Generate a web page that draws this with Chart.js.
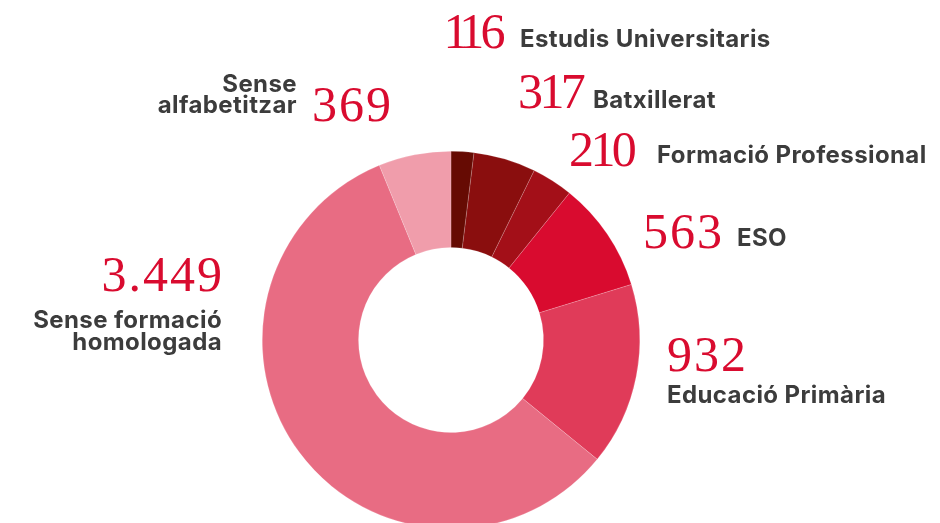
<!DOCTYPE html>
<html>
<head>
<meta charset="utf-8">
<script src="https://cdn.jsdelivr.net/npm/chart.js@4.4.1/dist/chart.umd.min.js"></script>
<style>
  html, body { margin: 0; padding: 0; background: #fff; overflow: hidden; }
  #wrap { width: 940px; height: 560px; }
</style>
</head>
<body>
<div id="wrap"><canvas id="grafica"></canvas></div>
<script>
// Dades
const categories = [
    ['Estudis Universitaris'],
    ['Batxillerat'],
    ['Formació Professional'],
    ['ESO'],
    ['Educació Primària'],
    ['Sense formació', 'homologada'],
    ['Sense', 'alfabetitzar']
];
const values = [116, 317, 210, 563, 932, 3449, 369];
const valueLabels = ['116', '317', '210', '563', '932', '3.449', '369'];
const colors = ['#660b03', '#8a0e0e', '#a30f18', '#d90b2f', '#e03b59', '#e86c83', '#f09dab'];

// Posicio de les etiquetes (no son dades)
const labelLayout = [
    { num: [449, 48, 'left'], txt: [520, 47, 'left'], lh: 22 },
    { num: [518, 108, 'left'], txt: [593, 108, 'left'], lh: 22 },
    { num: [569, 166, 'left'], txt: [657, 163, 'left'], lh: 22 },
    { num: [643, 248, 'left'], txt: [737, 246, 'left'], lh: 22 },
    { num: [667, 371, 'left'], txt: [667, 403, 'left'], lh: 22 },
    { num: [222, 291, 'right'], txt: [222, 328, 'right'], lh: 22 },
    { num: [312, 121, 'left'], txt: [297, 92, 'right'], lh: 21 }
];

// xifres amb amplada proporcional (l'"1" es mes estret)
function dibuixaXifra(ctx, str, x, y, align) {
    const esp = 2;
    const amples = [...str].map(ch => {
        const w = ctx.measureText(ch).width;
        return ch === '1' ? w * 0.55 : w;
    });
    const total = amples.reduce((a, b) => a + b, 0) + esp * (str.length - 1);
    let cx = align === 'right' ? x - total : x;
    ctx.textAlign = 'center';
    [...str].forEach((ch, k) => {
        ctx.fillText(ch, cx + amples[k] / 2, y);
        cx += amples[k] + esp;
    });
}

const etiquetes = {
    id: 'etiquetes',
    afterDraw(chart) {
        const ctx = chart.ctx;
        ctx.save();
        ctx.textBaseline = 'alphabetic';
        labelLayout.forEach((l, i) => {
            ctx.font = '50px "Liberation Serif"';
            ctx.fillStyle = '#d90b2f';
            ctx.letterSpacing = '0px';
            dibuixaXifra(ctx, valueLabels[i], l.num[0], l.num[1], l.num[2]);

            ctx.font = 'bold 24px Inter';
            ctx.fillStyle = '#3c3c3c';
            ctx.textAlign = l.txt[2];
            ctx.letterSpacing = '0.4px';
            categories[i].forEach((linia, j) => {
                ctx.fillText(linia, l.txt[0], l.txt[1] + j * l.lh);
            });
        });
        ctx.restore();
    }
};

new Chart(document.getElementById('grafica'), {
    type: 'doughnut',
    data: {
        labels: categories.map(c => c.join(' ')),
        datasets: [{
            data: values,
            backgroundColor: colors,
            borderColor: 'rgba(255,255,255,0.35)',
            borderWidth: 0.5
        }]
    },
    options: {
        responsive: true,
        maintainAspectRatio: false,
        animation: false,
        cutout: '49%',
        rotation: 0,
        layout: { padding: { top: 151, bottom: 31, left: 0, right: 38 } },
        plugins: {
            legend: { display: false },
            tooltip: { enabled: false }
        }
    },
    plugins: [etiquetes]
});
</script>
</body>
</html>
